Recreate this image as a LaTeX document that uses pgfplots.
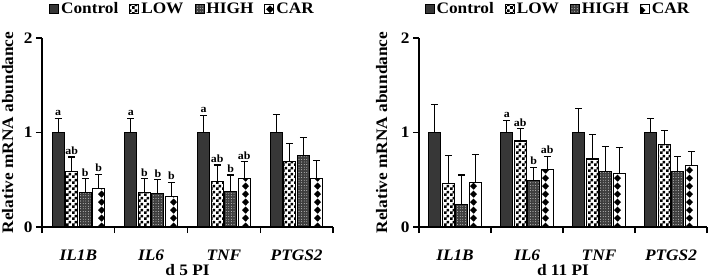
\documentclass[border=0pt]{standalone}
\usepackage{pgfplots}
\pgfplotsset{compat=1.18}
\usepackage{pgfplotstable}
\usepackage{fontspec}
\setmainfont{Liberation Serif}[FakeStretch=1.08]
\usetikzlibrary{patterns}

\definecolor{ctrl}{RGB}{55,55,55}
\definecolor{high}{RGB}{62,62,62}

\pgfdeclarepatternformonly{mychecker}{\pgfqpoint{0pt}{0pt}}{\pgfqpoint{6pt}{6pt}}{\pgfqpoint{6pt}{6pt}}{%
 \pgfpathrectangle{\pgfqpoint{0pt}{0pt}}{\pgfqpoint{3pt}{3pt}}%
 \pgfpathrectangle{\pgfqpoint{3pt}{3pt}}{\pgfqpoint{3pt}{3pt}}%
 \pgfusepath{fill}}
\pgfdeclarepatternformonly{mydots}{\pgfqpoint{-1pt}{-1pt}}{\pgfqpoint{1pt}{1pt}}{\pgfqpoint{2.6pt}{2.6pt}}{%
 \pgfpathcircle{\pgfqpoint{0pt}{0pt}}{0.42pt}\pgfusepath{fill}}
\pgfdeclarepatternformonly{mydiamonds}{\pgfqpoint{0pt}{0pt}}{\pgfqpoint{12pt}{8.3pt}}{\pgfqpoint{12pt}{8.3pt}}{%
 \pgfpathmoveto{\pgfqpoint{6pt}{0.3pt}}\pgfpathlineto{\pgfqpoint{9.8pt}{4.15pt}}%
 \pgfpathlineto{\pgfqpoint{6pt}{8pt}}\pgfpathlineto{\pgfqpoint{2.2pt}{4.15pt}}\pgfpathclose\pgfusepath{fill}}

\pgfplotstableread{
x C Ce Cl L Le Ll H He Hl R Re Rl
0 1.00 0.15 a 0.585 0.155 ab 0.367 0.143 b 0.41 0.147 b
1 1.00 0.15 a 0.367 0.143 b 0.356 0.144 b 0.32 0.15 b
2 1.00 0.18 a 0.48 0.176 ab 0.374 0.176 b 0.515 0.175 ab
3 1.00 0.19 {} 0.69 0.19 {} 0.755 0.195 {} 0.51 0.19 {}
}\dfive

\pgfplotstableread{
x C Ce Cl L Le Ll H He Hl R Re Rl
0 1.00 0.30 {} 0.46 0.30 {} 0.24 0.31 {} 0.47 0.30 {}
1 1.00 0.13 a 0.91 0.13 ab 0.49 0.14 b 0.61 0.14 ab
2 1.00 0.25 {} 0.72 0.26 {} 0.59 0.26 {} 0.57 0.27 {}
3 1.00 0.15 {} 0.87 0.15 {} 0.59 0.16 {} 0.65 0.15 {}
}\deleven

\newcommand{\bigf}{\bfseries\fontsize{16}{18}\selectfont}
\newcommand{\smallf}{\bfseries\fontsize{11}{12}\selectfont}

\pgfplotsset{
 mybase/.style={
  scale only axis, height=189pt,
  xmin=-0.5, xmax=3.5, ymin=0, ymax=2,
  axis x line=bottom, axis y line=left,
  axis line style={-, line width=1.2pt, black},
  clip=false,
  ybar=1.5pt, bar width=12pt,
  tick align=outside, major tick length=6pt, minor tick length=6pt,
  tick style={line width=1.2pt, black},
  ytick={0,1,2},
  /pgf/number format/assume math mode=true,
  yticklabel style={font=\bigf},
  xtick={0,1,2,3},
  xticklabels={\textit{IL1B},\textit{IL6},\textit{TNF},\textit{PTGS2}},
  xticklabel style={font=\bigf, yshift=-13pt},
  major x tick style={draw=none},
  minor xtick={-0.5,0.5,1.5,2.5,3.5},
  minor x tick style={line width=1.2pt, black},
  ylabel={Relative mRNA abundance},
  error bars/y dir=plus, error bars/y explicit,
  error bars/error bar style={line width=1.2pt, black, solid},
  error bars/error mark options={rotate=90, mark size=3.5pt, line width=1.2pt, black},
  legend style={at={(0.5,1)}, anchor=center, xshift=-5pt, yshift=29pt,
    draw=none, fill=none, font=\bigf, legend columns=4,
    /tikz/every even column/.append style={column sep=9pt}},
  legend image code/.code={\draw[#1, line width=0.9pt] (0pt,-4.5pt) rectangle (9pt,4.5pt);},
 },
 sC/.style={draw=black, line width=1.1pt, fill=ctrl},
 sL/.style={draw=black, line width=1.1pt, fill=white, postaction={pattern=mychecker}},
 sH/.style={draw=black, line width=1.1pt, fill=high, postaction={pattern=mydots, pattern color=white}},
 sR/.style={draw=black, line width=1.1pt, fill=white, postaction={pattern=mydiamonds}},
 lab/.style={point meta=explicit symbolic, nodes near coords,
   visualization depends on={\thisrow{#1} \as \myerr},
   every node near coord/.append style={yshift=\myerr*94.5pt+0.5pt, font=\smallf, text=black, inner sep=1.5pt}},
}

\begin{document}
\begin{tikzpicture}
\path[use as bounding box] (0,0) rectangle (709pt,279pt);

\begin{axis}[mybase, width=291pt, at={(42pt,52pt)}, anchor=south west,
  xlabel={d 5 PI},
  xlabel style={at={(axis description cs:0.5,-0.212)}, anchor=center, font=\bigf, yshift=-2.5pt, inner sep=1pt},
  every axis y label/.style={at={(axis description cs:-0.118,0.5)}, rotate=90, anchor=center, font=\bigf}]
\addplot[sC, lab=Ce] table[x=x, y=C, y error=Ce, meta=Cl] {\dfive};
\addplot[sL, lab=Le] table[x=x, y=L, y error=Le, meta=Ll] {\dfive};
\addplot[sH, lab=He] table[x=x, y=H, y error=He, meta=Hl] {\dfive};
\addplot[sR, lab=Re] table[x=x, y=R, y error=Re, meta=Rl] {\dfive};
\legend{Control,LOW,HIGH,CAR}
\end{axis}

\begin{axis}[mybase, width=288pt, at={(419pt,52pt)}, anchor=south west,
  xlabel={d 11 PI},
  xlabel style={at={(axis description cs:0.5,-0.212)}, anchor=center, font=\bigf, yshift=-2.5pt, inner sep=1pt},
  every axis y label/.style={at={(axis description cs:-0.130,0.5)}, rotate=90, anchor=center, font=\bigf}]
\addplot[sC, lab=Ce] table[x=x, y=C, y error=Ce, meta=Cl] {\deleven};
\addplot[sL, lab=Le] table[x=x, y=L, y error=Le, meta=Ll] {\deleven};
\addplot[sH, lab=He] table[x=x, y=H, y error=He, meta=Hl] {\deleven};
\addplot[sR, lab=Re] table[x=x, y=R, y error=Re, meta=Rl] {\deleven};
\legend{Control,LOW,HIGH,CAR}
\end{axis}
\end{tikzpicture}
\end{document}
